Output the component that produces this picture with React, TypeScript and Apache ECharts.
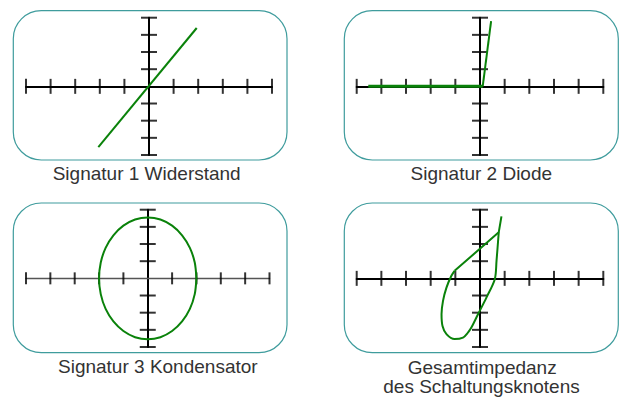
import React, { useEffect, useRef } from "react";
import * as echarts from "echarts";

// Tick positions (in divisions)
const xTicks = [-5, -4, -3, -2, -1, 1, 2, 3, 4, 5];
const yTicks = [-4, -3, -2, -1, 1, 2, 3, 4];

// Panel labels
const labels1 = ["Signatur 1 Widerstand"];
const labels2 = ["Signatur 2 Diode"];
const labels3 = ["Signatur 3 Kondensator"];
const labels4 = ["Gesamtimpedanz", "des Schaltungsknotens"];

// Signature 1: resistor (straight line through origin)
const resistor: number[][] = [
  [-2.06, -3.54],
  [1.94, 3.4],
];

// Signature 2: diode
const diodeFlat: number[][] = [
  [-4.53, 0],
  [0.11, 0],
];
const diodeRise: number[][] = [
  [0.11, 0],
  [0.45, 3.8],
];

// Signature 3: capacitor (ellipse, points read around the outline)
const capacitor: number[][] = [
  [2.0, 0],
  [1.93, 0.92],
  [1.73, 1.78],
  [1.41, 2.51],
  [1.0, 3.07],
  [0.52, 3.43],
  [0, 3.55],
  [-0.52, 3.43],
  [-1.0, 3.07],
  [-1.41, 2.51],
  [-1.73, 1.78],
  [-1.93, 0.92],
  [-2.0, 0],
  [-1.93, -0.92],
  [-1.73, -1.78],
  [-1.41, -2.51],
  [-1.0, -3.07],
  [-0.52, -3.43],
  [0, -3.55],
  [0.52, -3.43],
  [1.0, -3.07],
  [1.41, -2.51],
  [1.73, -1.78],
  [1.93, -0.92],
  [2.0, 0],
];

// Total impedance: straight part + loop
const totalStraight: number[][] = [
  [0.87, 3.61],
  [0.76, 2.68],
  [-1.03, 0.44],
];
const totalLoop: number[][] = [
  [-1.03, 0.44],
  [-1.16, 0.15],
  [-1.36, -0.54],
  [-1.5, -1.31],
  [-1.56, -2.09],
  [-1.52, -2.77],
  [-1.36, -3.25],
  [-1.03, -3.54],
  [-0.69, -3.45],
  [-0.49, -3.16],
  [-0.35, -2.87],
  [-0.08, -2.09],
  [0.26, -1.12],
  [0.6, -0.05],
  [0.67, 1.02],
  [0.76, 2.68],
];

const GREEN = "#0a820a";
const TEAL = "#3f9c9d";
const FONT = "'Liberation Sans', Arial, sans-serif";

export default function App() {
  const ref = useRef<HTMLDivElement>(null);
  useEffect(() => {
    if (!ref.current) return;
    const chart = echarts.init(ref.current, null, { renderer: "svg" });

    const grids = [
      { left: 26, top: 17.7, width: 246, height: 137.3 },
      { left: 356.7, top: 17.7, width: 246.6, height: 137.3 },
      { left: 26, top: 209.7, width: 243.5, height: 137.3 },
      { left: 356.7, top: 209.7, width: 246.6, height: 137.3 },
    ];

    const xAxes = grids.map((_, i) => ({
      type: "value",
      gridIndex: i,
      min: -5,
      max: 5,
      interval: 1,
      axisLine: {
        onZero: true,
        lineStyle: i === 2 ? { color: "#555", width: 1.4 } : { color: "#000", width: 2 },
      },
      axisTick: { show: false },
      axisLabel: { show: false },
      splitLine: { show: false },
    }));
    const yAxes = grids.map((_, i) => ({
      type: "value",
      gridIndex: i,
      min: -4,
      max: 4,
      interval: 1,
      axisLine: { onZero: true, lineStyle: { color: "#000", width: 2 } },
      axisTick: { show: false },
      axisLabel: { show: false },
      splitLine: { show: false },
    }));

    const series: any[] = [];
    grids.forEach((_, i) => {
      series.push({
        type: "scatter",
        xAxisIndex: i,
        yAxisIndex: i,
        data: xTicks.map((v) => [v, 0]),
        symbol: "rect",
        symbolSize: i === 2 ? [2, 12] : [2, 15],
        itemStyle: { color: "#000" },
        silent: true,
        z: 3,
      });
      series.push({
        type: "scatter",
        xAxisIndex: i,
        yAxisIndex: i,
        data: yTicks.map((v) => [0, v]),
        symbol: "rect",
        symbolSize: [16, 2],
        itemStyle: { color: "#000" },
        silent: true,
        z: 3,
      });
    });

    const lineBase = {
      type: "line",
      showSymbol: false,
      symbol: "none",
      silent: true,
      z: 5,
    };
    series.push({ ...lineBase, xAxisIndex: 0, yAxisIndex: 0, data: resistor, lineStyle: { color: GREEN, width: 2 } });
    series.push({ ...lineBase, xAxisIndex: 1, yAxisIndex: 1, data: diodeFlat, lineStyle: { color: GREEN, width: 3 } });
    series.push({ ...lineBase, xAxisIndex: 1, yAxisIndex: 1, data: diodeRise, lineStyle: { color: GREEN, width: 2 } });
    series.push({ ...lineBase, xAxisIndex: 2, yAxisIndex: 2, data: capacitor, smooth: 0.3, lineStyle: { color: GREEN, width: 2 } });
    series.push({ ...lineBase, xAxisIndex: 3, yAxisIndex: 3, data: totalStraight, lineStyle: { color: GREEN, width: 2 } });
    series.push({ ...lineBase, xAxisIndex: 3, yAxisIndex: 3, data: totalLoop, smooth: 0.3, lineStyle: { color: GREEN, width: 2 } });

    const frames = [
      { x: 13.3, y: 10.7, w: 273.7, h: 149.3 },
      { x: 344.3, y: 10.7, w: 274, h: 149.3 },
      { x: 13.3, y: 203, w: 273.7, h: 149.7 },
      { x: 344.3, y: 203, w: 274, h: 149.7 },
    ];
    const graphic: any[] = frames.map((f) => ({
      type: "rect",
      shape: { x: f.x, y: f.y, width: f.w, height: f.h, r: 28 },
      style: { fill: "none", stroke: TEAL, lineWidth: 1.2 },
      silent: true,
      z: 0,
    }));
    const textItems = [
      { t: labels1[0], x: 146.7, y: 173.3 },
      { t: labels2[0], x: 481.3, y: 173.3 },
      { t: labels3[0], x: 157.8, y: 366 },
      { t: labels4[0], x: 482.2, y: 367 },
      { t: labels4[1], x: 481.5, y: 386.3 },
    ];
    textItems.forEach((it) => {
      graphic.push({
        type: "text",
        x: it.x,
        y: it.y,
        style: {
          text: it.t,
          fill: "#333",
          font: `19px ${FONT}`,
          textAlign: "center",
          textVerticalAlign: "middle",
        },
        silent: true,
      });
    });

    chart.setOption({
      animation: false,
      grid: grids,
      xAxis: xAxes,
      yAxis: yAxes,
      series,
      graphic,
    });
    return () => chart.dispose();
  }, []);
  return (
    <div
      ref={ref}
      style={{ position: "absolute", left: 0, top: 0, width: 622, height: 397, background: "#fff" }}
    />
  );
}
